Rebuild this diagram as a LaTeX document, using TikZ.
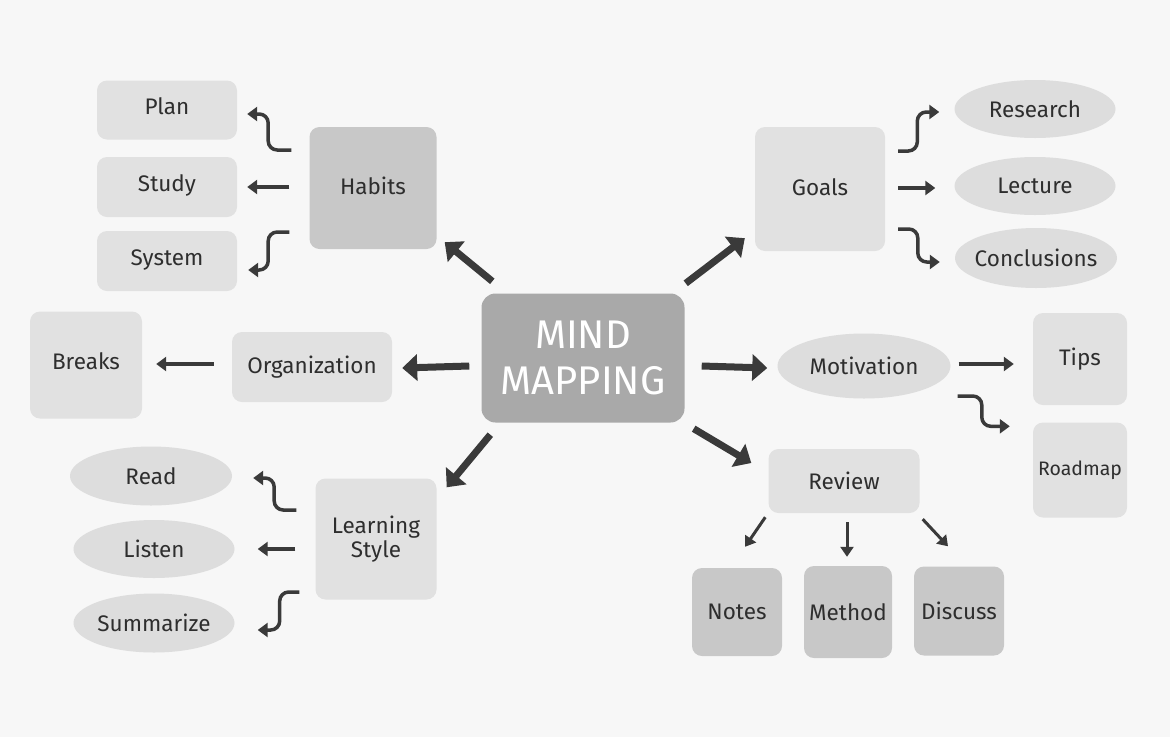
\documentclass[tikz,border=0pt]{standalone}
\usepackage{fontspec}
\setmainfont{Fira Sans}
\usetikzlibrary{arrows.meta,shapes.geometric,calc}
\definecolor{bgc}{HTML}{F7F7F7}
\definecolor{lightc}{HTML}{E1E1E1}
\definecolor{ellc}{HTML}{DDDDDD}
\definecolor{darkc}{HTML}{C8C8C8}
\definecolor{centc}{HTML}{A9A9A9}
\definecolor{inkc}{HTML}{3A3A3A}
\definecolor{textc}{HTML}{2E2E2E}
\newcommand{\up}[2]{\raisebox{#1}{#2}}
\tikzset{
  txt/.style={text=textc, font=\fontsize{22.5}{26}\selectfont, inner sep=0pt},
  lbox/.style={txt, rectangle, rounded corners=10pt, fill=lightc},
  dbox/.style={txt, rectangle, rounded corners=10pt, fill=darkc},
  ebox/.style={txt, ellipse, fill=ellc, inner xsep=-20pt},
  sz/.style 2 args={minimum width=#1, minimum height=#2},
  marr/.style={draw=inkc, line width=7pt, -{Triangle[length=15pt,width=26pt]}},
  sarr/.style={draw=inkc, line width=3.5pt, rounded corners=9pt, -{Triangle[length=10pt,width=14pt]}},
  tarr/.style={draw=inkc, line width=3pt, -{Triangle[length=10pt,width=13pt]}}
}
\begin{document}
\begin{tikzpicture}[x=1pt,y=-1pt]
\fill[bgc] (0,0) rectangle (1170,737);
\useasboundingbox (0,0) rectangle (1170,737);

% centre
\node[rectangle, rounded corners=14pt, fill=centc, text=white, align=center,
      font=\fontsize{40}{46}\selectfont, sz={203pt}{129pt}, inner sep=0pt] (mm) at (583,358) {MIND\\MAPPING};

% Habits branch
\node[dbox, sz={127pt}{122pt}] (habits) at (373,188) {\up{5pt}{Habits}};
\node[lbox, sz={140pt}{59pt}] (plan) at (167,110) {\up{7pt}{Plan}};
\node[lbox, sz={140pt}{60pt}] (study) at (167,187) {\up{7pt}{Study}};
\node[lbox, sz={140pt}{60pt}] (system) at (167,261) {\up{6pt}{System}};

% Goals branch
\node[lbox, sz={130pt}{124pt}] (goals) at (820,189) {\up{4pt}{Goals}};
\node[ebox, sz={161pt}{58pt}] (research) at (1035,109) {Research};
\node[ebox, sz={161pt}{58pt}] (lecture) at (1035,186) {Lecture};
\node[ebox, sz={162pt}{60pt}] (concl) at (1036,258) {Conclusions};

% Organization branch
\node[lbox, sz={160pt}{70pt}] (org) at (312,367) {Organization};
\node[lbox, sz={112pt}{107pt}] (breaks) at (86,365) {\up{7pt}{Breaks}};

% Motivation branch
\node[ebox, sz={173pt}{65pt}] (motiv) at (864,366) {Motivation};
\node[lbox, sz={94pt}{92pt}] (tips) at (1080,359) {Tips};
\node[lbox, sz={94pt}{95pt}, font=\fontsize{19.5}{23}\selectfont] (roadmap) at (1080,470) {Roadmap};

% Review branch
\node[lbox, sz={151pt}{64pt}] (review) at (844,481) {Review};
\node[dbox, sz={90pt}{88pt}] (notes) at (737,612) {Notes};
\node[dbox, sz={88pt}{92pt}] (method) at (848,612) {Method};
\node[dbox, sz={90pt}{89pt}] (discuss) at (959,611) {Discuss};

% Learning style branch
\node[lbox, sz={121pt}{121pt}, align=center] (ls) at (376,539) {\up{1pt}{\shortstack{Learning\\Style}}};
\node[ebox, sz={162pt}{59pt}] (read) at (151,476) {Read};
\node[ebox, sz={161pt}{58pt}] (listen) at (154,549) {Listen};
\node[ebox, sz={161pt}{59pt}] (summ) at (154,623) {Summarize};

% main arrows
\draw[marr] ($(mm.north west)+(11,-12)$) -- ($(habits.south east)+(8,-7)$);
\draw[marr] ($(mm.north east)+(1,-10)$) -- ($(goals.south west)+(-10,-13)$);
\draw[marr] ($(mm.west)+(-12,8)$) -- ($(org.east)+(10,1)$);
\draw[marr] ($(mm.east)+(17,8)$) -- ($(motiv.west)+(-10,2)$);
\draw[marr] ($(mm.south west)+(9,12)$) -- ($(ls.north east)+(10,9)$);
\draw[marr] ($(mm.south east)+(9,6)$) -- ($(review.west)+(-17,-18)$);

% Habits sub-arrows
\draw[sarr] ($(habits.west)+(-18,-38)$) -| ($(plan.east)+(31,4)$) -- ($(plan.east)+(10,4)$);
\draw[sarr] ($(habits.west)+(-20,-1)$) -- ($(study.east)+(10,0)$);
\draw[sarr] ($(habits.west)+(-20,44)$) -| ($(system.east)+(31,9)$) -- ($(system.east)+(11,9)$);

% Goals sub-arrows
\draw[sarr] ($(goals.east)+(13,-38)$) -| ($(research.west)+(-37,3)$) -- ($(research.west)+(-15,3)$);
\draw[sarr] ($(goals.east)+(13,-1)$) -- ($(lecture.west)+(-19,2)$);
\draw[sarr] ($(goals.east)+(13,40)$) -| ($(concl.west)+(-37,4)$) -- ($(concl.west)+(-15,4)$);

% Organization sub-arrow
\draw[sarr] ($(org.west)+(-18,-3)$) -- ($(breaks.east)+(14,-1)$);

% Motivation sub-arrows
\draw[sarr] ($(motiv.east)+(8,-2)$) -- ($(tips.west)+(-19,5)$);
\draw[sarr] ($(motiv.east)+(7,30)$) -| ($(roadmap.north west)+(-51,4)$) -- ($(roadmap.north west)+(-23,4)$);

% Review sub-arrows
\draw[tarr] ($(review.south west)+(-3,4)$) -- ($(notes.north)+(8,-21)$);
\draw[tarr] ($(review.south)+(3,9)$) -- ($(method.north)+(-1,-9)$);
\draw[tarr] ($(review.south east)+(3,6)$) -- ($(discuss.north)+(-11,-20)$);

% Learning style sub-arrows
\draw[sarr] ($(ls.west)+(-19,-29)$) -| ($(read.east)+(42,2)$) -- ($(read.east)+(21,2)$);
\draw[sarr] ($(ls.west)+(-20,10)$) -- ($(listen.east)+(23,0)$);
\draw[sarr] ($(ls.west)+(-16,53)$) -| ($(summ.east)+(45,7)$) -- ($(summ.east)+(23,7)$);
\end{tikzpicture}
\end{document}
